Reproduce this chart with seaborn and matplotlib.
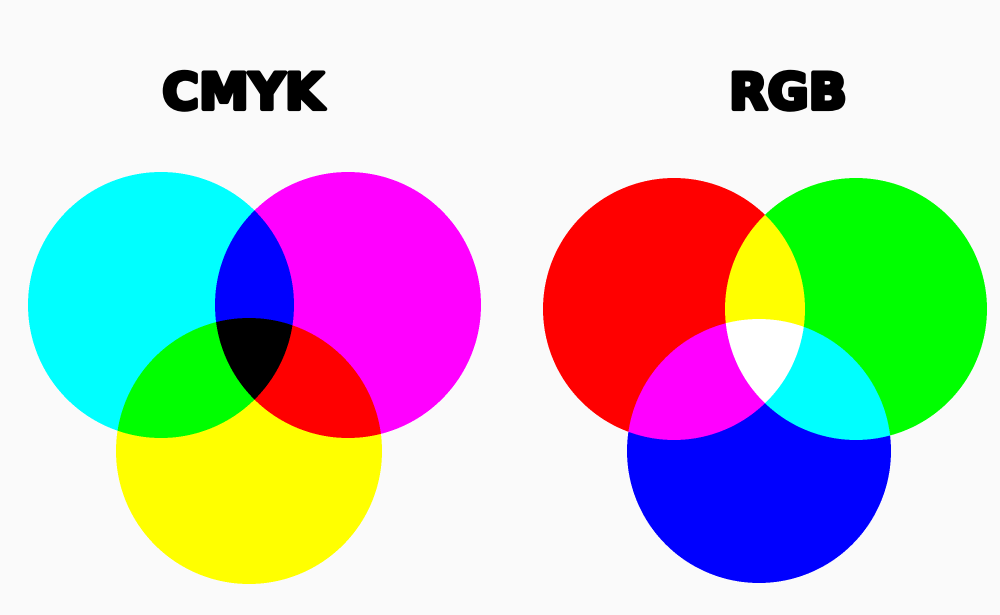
import numpy as np
import matplotlib
matplotlib.use("Agg")
import matplotlib.pyplot as plt
import matplotlib.patheffects as pe
import seaborn as sns

# circle data (pixel units, y downward)
cmyk_names = ["C", "M", "Y"]
cmyk_x = [161, 348, 249]
cmyk_y = [305, 305, 451]
cmyk_r = [133, 133, 133]
# channel each ink removes (R, G, B)
cmyk_removes = [(1, 0, 0), (0, 1, 0), (0, 0, 1)]

rgb_names = ["R", "G", "B"]
rgb_x = [674, 856, 759]
rgb_y = [309, 309, 451]
rgb_r = [131, 131, 132]
rgb_adds = [(1, 0, 0), (0, 1, 0), (0, 0, 1)]

titles = ["CMYK", "RGB"]
title_x = [243, 788]
title_base = [109, 109]

bg = np.array([0.984, 0.984, 0.984])
W, H = 1000, 615
ss = 3  # supersampling

sns.set_theme(style="white")

xs = (np.arange(W * ss) + 0.5) / ss
ys = (np.arange(H * ss) + 0.5) / ss
X, Y = np.meshgrid(xs, ys)

img = np.tile(bg, (H * ss, W * ss, 1))

# subtractive mixing
ink = np.zeros((H * ss, W * ss, 3))
union = np.zeros((H * ss, W * ss), bool)
for cx, cy, r, rm in zip(cmyk_x, cmyk_y, cmyk_r, cmyk_removes):
    m = (X - cx) ** 2 + (Y - cy) ** 2 <= r ** 2
    union |= m
    ink[m] += np.array(rm)
col = 1 - np.clip(ink, 0, 1)
img[union] = col[union]

# additive mixing
light = np.zeros((H * ss, W * ss, 3))
union = np.zeros((H * ss, W * ss), bool)
for cx, cy, r, ad in zip(rgb_x, rgb_y, rgb_r, rgb_adds):
    m = (X - cx) ** 2 + (Y - cy) ** 2 <= r ** 2
    union |= m
    light[m] += np.array(ad)
col = np.clip(light, 0, 1)
img[union] = col[union]

img = img.reshape(H, ss, W, ss, 3).mean(axis=(1, 3))

fig = plt.figure(figsize=(10, 6.15), dpi=100)
fig.patch.set_facecolor(bg)
ax = fig.add_axes([0, 0, 1, 1])
ax.imshow(img, extent=(0, W, H, 0), interpolation="bilinear")
ax.set_xlim(0, W)
ax.set_ylim(H, 0)
ax.axis("off")

for t, tx, ty in zip(titles, title_x, title_base):
    ax.text(tx, ty, t, ha="center", va="baseline", fontsize=36,
            fontweight="bold", family="DejaVu Sans", color="black",
            path_effects=[pe.withStroke(linewidth=3, foreground="black")])

fig.savefig("out.png", dpi=100, facecolor=bg)
